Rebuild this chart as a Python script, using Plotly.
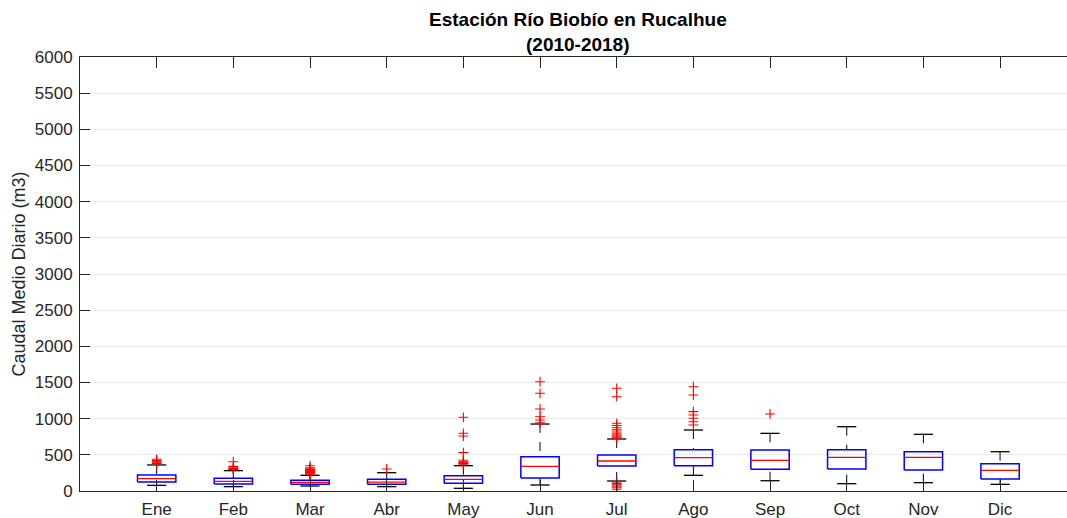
import plotly.graph_objects as go

# Monthly daily-flow statistics, Río Biobío en Rucalhue (2010-2018)
months = ["Ene", "Feb", "Mar", "Abr", "May", "Jun", "Jul", "Ago", "Sep", "Oct", "Nov", "Dic"]
q1 = [124, 97, 95, 93, 106, 180, 346, 350, 300, 304, 290, 166]
median = [172, 134, 120, 122, 162, 341, 415, 461, 424, 466, 466, 286]
q3 = [221, 175, 148, 162, 212, 474, 498, 571, 567, 571, 543, 378]
whisker_low = [78, 60, 69, 60, 37, 83, 138, 217, 142, 101, 115, 92]
whisker_high = [360, 281, 217, 253, 350, 926, 719, 843, 797, 889, 784, 543]
outliers = [
    [438, 420, 405, 390, 380],
    [405, 340, 320, 310, 300, 295],
    [350, 320, 305, 295, 285, 275, 265, 255, 245, 235, 225],
    [304],
    [1019, 798, 760, 530, 425, 405, 392, 380, 370],
    [1511, 1351, 1134, 1027, 982, 944],
    [1420, 1304, 936, 905, 875, 845, 815, 790, 770, 750, 735,
     125, 105, 85, 65, 45, 25],
    [1442, 1327, 1097, 1051, 1005, 958, 912],
    [1065],
    [],
    [],
    [],
]

BOX_HALF = 0.25
CAP_HALF = 0.125
AXIS_COLOR = "#262626"

pos = list(range(1, len(months) + 1))

box_x, box_y = [], []
med_x, med_y = [], []
wh_x, wh_y = [], []
cap_x, cap_y = [], []
out_x, out_y = [], []
for i, p in enumerate(pos):
    box_x += [p - BOX_HALF, p + BOX_HALF, p + BOX_HALF, p - BOX_HALF, p - BOX_HALF, None]
    box_y += [q1[i], q1[i], q3[i], q3[i], q1[i], None]
    med_x += [p - BOX_HALF, p + BOX_HALF, None]
    med_y += [median[i], median[i], None]
    # whiskers run from the cap towards the box edge
    wh_x += [p, p, None, p, p, None]
    wh_y += [whisker_high[i], q3[i], None, whisker_low[i], q1[i], None]
    cap_x += [p - CAP_HALF, p + CAP_HALF, None, p - CAP_HALF, p + CAP_HALF, None]
    cap_y += [whisker_high[i], whisker_high[i], None, whisker_low[i], whisker_low[i], None]
    out_x += [p] * len(outliers[i])
    out_y += outliers[i]

fig = go.Figure()
fig.add_trace(go.Scatter(x=wh_x, y=wh_y, mode="lines",
                         line=dict(color="#000000", width=1, dash="9px,9px"),
                         hoverinfo="skip", showlegend=False))
fig.add_trace(go.Scatter(x=cap_x, y=cap_y, mode="lines",
                         line=dict(color="#000000", width=1.3),
                         hoverinfo="skip", showlegend=False))
fig.add_trace(go.Scatter(x=box_x, y=box_y, mode="lines",
                         line=dict(color="#0000ff", width=1.5),
                         hoverinfo="skip", showlegend=False))
fig.add_trace(go.Scatter(x=med_x, y=med_y, mode="lines",
                         line=dict(color="#ff0000", width=1.3),
                         hoverinfo="skip", showlegend=False))
fig.add_trace(go.Scatter(x=out_x, y=out_y, mode="markers",
                         marker=dict(symbol="cross-thin", size=7,
                                     line=dict(color="#ff0000", width=1.1)),
                         showlegend=False))

font_family = "Liberation Sans, Arial, sans-serif"

fig.update_layout(
    width=1067,
    height=518,
    margin=dict(l=80, r=0, t=57, b=27),
    paper_bgcolor="white",
    plot_bgcolor="white",
    font=dict(family=font_family, size=17, color=AXIS_COLOR),
    xaxis=dict(
        range=[0, 12.873],
        tickmode="array",
        tickvals=pos,
        ticktext=months,
        ticks="inside",
        ticklen=11,
        tickwidth=1,
        tickcolor=AXIS_COLOR,
        showline=True,
        linecolor=AXIS_COLOR,
        linewidth=1,
        mirror="ticks",
        showgrid=False,
        zeroline=False,
        ticklabelstandoff=3,
        tickfont=dict(size=17, color=AXIS_COLOR),
    ),
    yaxis=dict(
        range=[0, 6000],
        dtick=500,
        ticks="inside",
        ticklen=10,
        tickwidth=1,
        tickcolor=AXIS_COLOR,
        showline=True,
        linecolor=AXIS_COLOR,
        linewidth=1,
        showgrid=True,
        gridcolor="#ebebeb",
        gridwidth=1,
        zeroline=False,
        ticklabelstandoff=3,
        tickfont=dict(size=17, color=AXIS_COLOR),
        title=dict(text="Caudal Medio Diario (m3)", standoff=4,
                   font=dict(size=18, color=AXIS_COLOR)),
    ),
    annotations=[
        dict(text="<b>Estación Río Biobío en Rucalhue</b>", xref="paper", yref="paper",
             x=0.5046, y=1, yshift=38, xanchor="center", yanchor="middle",
             showarrow=False, font=dict(size=19, color="#000000")),
        dict(text="<b>(2010-2018)</b>", xref="paper", yref="paper",
             x=0.5046, y=1, yshift=13, xanchor="center", yanchor="middle",
             showarrow=False, font=dict(size=19, color="#000000")),
    ],
)

fig.write_html("out.html")
